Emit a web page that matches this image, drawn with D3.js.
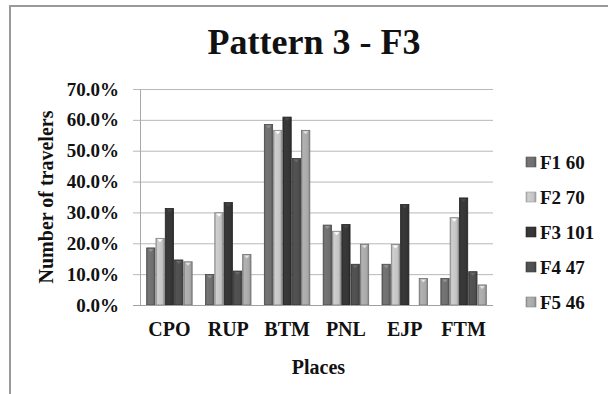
<!DOCTYPE html>
<html>
<head>
<meta charset="utf-8">
<script src="https://cdn.jsdelivr.net/npm/d3@7"></script>
<style>
    body { margin: 0; background: #fff; }
    svg text { font-family: "Liberation Serif", "DejaVu Serif", "Times New Roman", serif !important; font-weight: bold; }
</style>
</head>
<body>
<div id="chart"></div>
<script>
// Data
const places = ['CPO', 'RUP', 'BTM', 'PNL', 'EJP', 'FTM'];
const seriesNames = ['F1 60', 'F2 70', 'F3 101', 'F4 47', 'F5 46'];
const f1 = [18.5, 9.9, 58.5, 25.9, 13.2, 8.6];
const f2 = [21.6, 29.9, 56.6, 23.9, 19.6, 28.3];
const f3 = [31.3, 33.2, 60.9, 26.1, 32.6, 34.7];
const f4 = [14.6, 11.0, 47.5, 13.2, 0, 10.8];
const f5 = [14.0, 16.4, 56.6, 19.7, 8.6, 6.5];
const yTicks = [0, 10, 20, 30, 40, 50, 60, 70];

// Configuration
const config = {
    width: 608,
    height: 394,
    plot: { left: 140, right: 493, top: 89, bottom: 305 },
    colors: ['#6f6f6f', '#c4c4c4', '#363636', '#4f4f4f', '#a9a9a9'],
    font: '"Liberation Serif", "DejaVu Serif", serif'
};

const seriesValues = [f1, f2, f3, f4, f5];

const svg = d3.select('#chart')
    .append('svg')
    .attr('width', config.width)
    .attr('height', config.height);

// Gradients for the bevelled bars
const defs = svg.append('defs');
config.colors.forEach((c, i) => {
    const base = d3.color(c);
    const g = defs.append('linearGradient')
        .attr('id', `grad${i}`)
        .attr('x1', '0%').attr('x2', '100%')
        .attr('y1', '0%').attr('y2', '0%');
    g.append('stop').attr('offset', '0%').attr('stop-color', base.darker(0.5));
    g.append('stop').attr('offset', '20%').attr('stop-color', base.brighter(0.15));
    g.append('stop').attr('offset', '75%').attr('stop-color', base);
    g.append('stop').attr('offset', '100%').attr('stop-color', base.darker(0.7));
});

// Outer frame (only top and left edges are visible)
svg.append('rect')
    .attr('x', 10)
    .attr('y', 6)
    .attr('width', 700)
    .attr('height', 500)
    .attr('fill', 'none')
    .attr('stroke', '#9a9a9a')
    .attr('stroke-width', 2);

// Scales
const xScale = d3.scaleBand()
    .domain(places)
    .range([config.plot.left, config.plot.right]);

const gap = xScale.bandwidth() * 0.21;
const xInner = d3.scaleBand()
    .domain(seriesNames)
    .range([gap / 2, xScale.bandwidth() - gap / 2]);

const yScale = d3.scaleLinear()
    .domain([0, 70])
    .range([config.plot.bottom, config.plot.top]);

// Grid lines
svg.append('g')
    .selectAll('line')
    .data(yTicks)
    .enter()
    .append('line')
    .attr('x1', config.plot.left - 7)
    .attr('x2', config.plot.right)
    .attr('y1', d => yScale(d) + 0.5)
    .attr('y2', d => yScale(d) + 0.5)
    .attr('stroke', '#b9b9b9')
    .attr('stroke-width', 1);

// Y axis
const yAxis = d3.axisLeft(yScale)
    .tickValues(yTicks)
    .tickFormat(d => d.toFixed(1) + '%')
    .tickSize(0)
    .tickPadding(21);

const yAxisG = svg.append('g')
    .attr('transform', `translate(${config.plot.left},0)`)
    .call(yAxis)
    .attr('font-family', config.font)
    .attr('font-size', 19);
yAxisG.select('.domain').attr('stroke', '#a8a8a8');
yAxisG.selectAll('text')
    .attr('fill', '#111');

// Bars
const groups = svg.append('g')
    .selectAll('g')
    .data(places)
    .enter()
    .append('g')
    .attr('transform', d => `translate(${xScale(d)},0)`);

groups.each(function (place, pi) {
    const g = d3.select(this);
    seriesNames.forEach((name, si) => {
        const v = seriesValues[si][pi];
        if (!v) return;
        const x = xInner(name);
        const w = xInner.bandwidth();
        g.append('rect')
            .attr('x', x + 0.5)
            .attr('y', yScale(v))
            .attr('width', w - 1)
            .attr('height', yScale(0) - yScale(v))
            .attr('fill', `url(#grad${si})`)
            .attr('stroke', d3.color(config.colors[si]).darker(1.2))
            .attr('stroke-width', 0.8);
        // small bevel highlight at the top
        g.append('path')
            .attr('d', `M${x + 2},${yScale(v) + 1} L${x + w - 2},${yScale(v) + 1} L${x + w / 2},${yScale(v) + 4} Z`)
            .attr('fill', d3.color(config.colors[si]).brighter(0.8));
    });
});

// X axis line
svg.append('line')
    .attr('x1', config.plot.left - 7)
    .attr('x2', config.plot.right)
    .attr('y1', config.plot.bottom + 0.5)
    .attr('y2', config.plot.bottom + 0.5)
    .attr('stroke', '#a0a0a0');

// Category labels
svg.append('g')
    .selectAll('text')
    .data(places)
    .enter()
    .append('text')
    .attr('x', d => xScale(d) + xScale.bandwidth() / 2)
    .attr('y', 336)
    .attr('text-anchor', 'middle')
    .attr('font-size', 20)
    .attr('fill', '#111')
    .text(d => d);

// Axis titles
svg.append('text')
    .attr('x', (config.plot.left + config.plot.right) / 2 + 2)
    .attr('y', 374)
    .attr('text-anchor', 'middle')
    .attr('font-size', 20)
    .attr('fill', '#111')
    .text('Places');

svg.append('text')
    .attr('transform', `translate(53,${(config.plot.top + config.plot.bottom) / 2}) rotate(-90)`)
    .attr('text-anchor', 'middle')
    .attr('font-size', 20)
    .attr('fill', '#111')
    .text('Number of travelers');

// Chart title
svg.append('text')
    .attr('x', 314)
    .attr('y', 54)
    .attr('text-anchor', 'middle')
    .attr('font-size', 36)
    .attr('fill', '#111')
    .text('Pattern 3 - F3');

// Legend
const legend = svg.append('g')
    .selectAll('g')
    .data(seriesNames)
    .enter()
    .append('g')
    .attr('transform', (d, i) => `translate(526,${162 + i * 35})`);

legend.append('rect')
    .attr('x', 0)
    .attr('y', -5)
    .attr('width', 10)
    .attr('height', 10)
    .attr('fill', (d, i) => `url(#grad${i})`)
    .attr('stroke', (d, i) => d3.color(config.colors[i]).darker(0.6))
    .attr('stroke-width', 0.6);

legend.append('text')
    .attr('x', 14)
    .attr('y', 7)
    .attr('font-size', 19)
    .attr('fill', '#111')
    .text(d => d);
</script>
</body>
</html>
